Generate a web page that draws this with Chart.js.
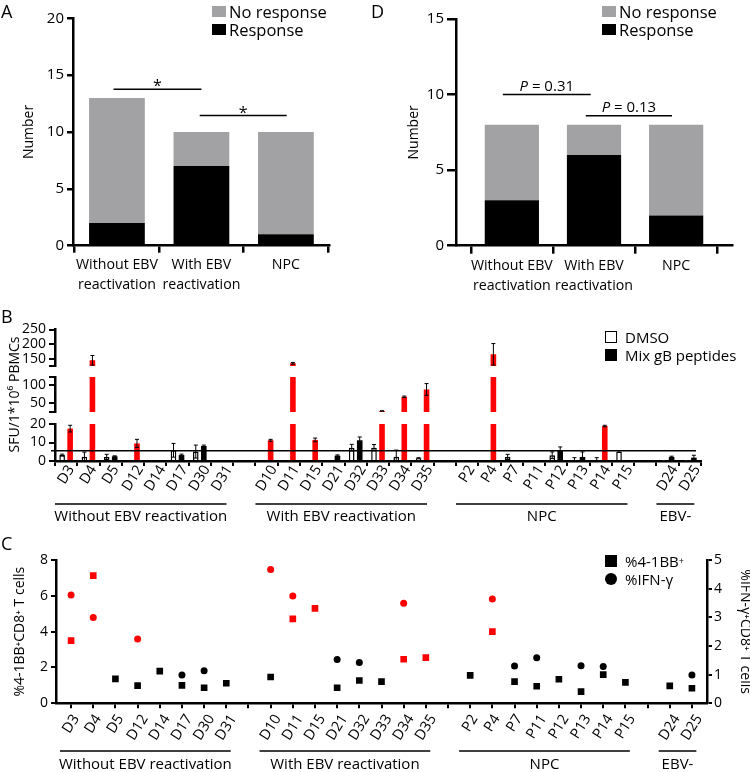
<!DOCTYPE html>
<html><head><meta charset="utf-8">
<script src="https://cdn.jsdelivr.net/npm/chart.js@4.4.1/dist/chart.umd.min.js"></script>
<style>
html,body{margin:0;padding:0;background:#fff;}
body{width:750px;height:772px;position:relative;overflow:hidden;font-family:'Open Sans','DejaVu Sans',sans-serif;color:#000;}
canvas{position:absolute;}
.pl{position:absolute;font-size:18px;line-height:18px;}
.leg{position:absolute;white-space:nowrap;}
.row{display:flex;align-items:center;height:18px;}
.sw{display:inline-block;flex:none;box-sizing:border-box;}
</style></head><body>
<canvas id="cA" width="370" height="300" style="left:0;top:0"></canvas>
<canvas id="cD" width="380" height="300" style="left:370px;top:0"></canvas>
<canvas id="cB3" width="750" height="230" style="left:0;top:300px"></canvas>
<canvas id="cB2" width="750" height="230" style="left:0;top:300px"></canvas>
<canvas id="cB1" width="750" height="230" style="left:0;top:300px"></canvas>
<canvas id="cC" width="755" height="302" style="left:0;top:470px"></canvas>

<div class="pl" style="left:1px;top:2px">A</div>
<div class="pl" style="left:371px;top:2px">D</div>
<div class="pl" style="left:1px;top:307px">B</div>
<div class="pl" style="left:1px;top:534px">C</div>

<div class="leg" style="left:212px;top:2px;font-size:16.5px">
  <div class="row"><span class="sw" style="width:14px;height:11px;background:#a2a2a5;margin-right:3px"></span>No response</div>
  <div class="row"><span class="sw" style="width:14px;height:11px;background:#000;margin-right:3px"></span>Response</div>
</div>
<div class="leg" style="left:602px;top:2px;font-size:16.5px">
  <div class="row"><span class="sw" style="width:14px;height:11px;background:#a2a2a5;margin-right:3px"></span>No response</div>
  <div class="row"><span class="sw" style="width:14px;height:11px;background:#000;margin-right:3px"></span>Response</div>
</div>
<div class="leg" style="left:605px;top:328px;font-size:15px">
  <div class="row"><span class="sw" style="width:12px;height:12px;border:1.5px solid #000;background:#fff;margin-right:8px"></span>DMSO</div>
  <div class="row"><span class="sw" style="width:12px;height:12px;background:#000;margin-right:8px"></span>Mix gB peptides</div>
</div>
<div class="leg" style="left:605px;top:552px;font-size:15px">
  <div class="row"><span class="sw" style="width:12px;height:12px;background:#000;margin-right:8px"></span>%4-1BB<sup style="font-size:9px;line-height:0">+</sup></div>
  <div class="row"><span class="sw" style="width:12px;height:12px;border-radius:50%;background:#000;margin-right:8px"></span>%IFN-γ</div>
</div>

<script>
// ---------------- data ----------------
const groupCats = [['Without EBV', 'reactivation'], ['With EBV', 'reactivation'], 'NPC'];
// Panel A
const aResponse = [2, 7, 1];
const aNoResponse = [11, 3, 9];
const aSig = [{from: -0.04, to: 1.0, y: 13.75, text: '*'}, {from: 0.98, to: 2.01, y: 11.45, text: '*'}];
// Panel D
const dResponse = [3, 6, 2];
const dNoResponse = [5, 2, 6];
const dSig = [{from: -0.11, to: 0.96, y: 10.0, text: 'P = 0.31'}, {from: 0.9, to: 1.95, y: 8.6, text: 'P = 0.13'}];

// Panels B / C categories
const groupNames = ['Without EBV reactivation', 'With EBV reactivation', 'NPC', 'EBV-'];
const groupMembers = [
  ['D3', 'D4', 'D5', 'D12', 'D14', 'D17', 'D30', 'D31'],
  ['D10', 'D11', 'D15', 'D21', 'D32', 'D33', 'D34', 'D35'],
  ['P2', 'P4', 'P7', 'P11', 'P12', 'P13', 'P14', 'P15'],
  ['D24', 'D25']
];
// Panel B (SFU per 1e6 PBMCs); null = spacer slot between groups
const dmsoSFU = [3.2, 2.3, 2.2, 0, 0.5, 5.8, 5.1, 0.5, null, 0, 0, 0.5, 0, 7.2, 7.2, 2.3, 1.5, null, 0, 0.5, 2.2, 0, 3.1, 0.5, 0.5, 5.1, null, 0.3, 0.3];
const dmsoErr = [0.5, 2.5, 1.4, 0, 0, 3.7, 3.5, 0, null, 0, 0, 0, 0, 1.8, 1.7, 3.6, 0.3, null, 0, 0, 1.4, 0, 1.8, 1.3, 1.3, 0.5, null, 0, 0];
const mixSFU = [17.5, 147, 2.5, 9.5, 0, 3.2, 8.1, 0.3, null, 11.2, 137, 11.4, 2.9, 11.2, 26, 67, 88, null, 0, 167, 0.3, 0.3, 5.4, 2.2, 18.9, 0.2, null, 2.2, 1.8];
const mixErr = [1.8, 16, 0.3, 2.2, 0, 0.5, 0.5, 0, null, 0.5, 3, 1, 0.4, 1.8, 0.5, 2, 17, null, 0, 36, 0, 0, 2.2, 2.7, 0.4, 0, null, 0.4, 1.3];
const mixResponse = [1, 1, 0, 1, 0, 0, 0, 0, 0, 1, 1, 1, 0, 0, 1, 1, 1, 0, 0, 1, 0, 0, 0, 0, 1, 0, 0, 0, 0];
const sfuCutoff = 5.6;
// Panel C
const pct41BB = [3.5, 7.13, 1.36, 0.99, 1.8, 1.0, 0.87, 1.12, null, 1.47, 4.71, 5.3, 0.87, 1.27, 1.21, 2.46, 2.55, null, 1.56, 4.0, 1.21, 0.95, 1.34, 0.65, 1.6, 1.17, null, 0.97, 0.84];
const pos41BB = [1, 1, 0, 0, 0, 0, 0, 0, 0, 0, 1, 1, 0, 0, 0, 1, 1, 0, 0, 1, 0, 0, 0, 0, 0, 0, 0, 0, 0];
const pctIFN = [3.78, 2.99, null, 2.24, null, 0.99, 1.14, null, null, 4.67, 3.74, null, 1.53, 1.42, null, 3.49, null, null, null, 3.64, 1.3, 1.59, null, 1.31, 1.28, null, null, null, 0.99];
const posIFN = [1, 1, 0, 1, 0, 0, 0, 0, 0, 1, 1, 0, 0, 0, 0, 1, 0, 0, 0, 1, 0, 0, 0, 0, 0, 0, 0, 0, 0];

// ---------------- helpers ----------------
const FONT = "'Open Sans','DejaVu Sans',sans-serif";
Chart.defaults.font.family = FONT;
Chart.defaults.color = '#000';
const RED = '#ff0000', GRAY = '#a2a2a5', BLK = '#000';

const categories = [];
const groups = [];
groupMembers.forEach((m, g) => {
  if (g) categories.push('');
  groups.push({name: groupNames[g], start: categories.length, end: categories.length + m.length - 1});
  categories.push(...m);
});

function tickGrid(len, w) {
  return {display: true, drawOnChartArea: false, drawTicks: true, tickLength: len, color: BLK, lineWidth: w};
}

const sigPlugin = {
  id: 'sig',
  afterDraw(chart, args, o) {
    if (!o || !o.items) return;
    const ctx = chart.ctx, xs = chart.scales.x, ys = chart.scales.y;
    ctx.save();
    ctx.strokeStyle = BLK; ctx.fillStyle = BLK; ctx.lineWidth = 1.5;
    o.items.forEach(it => {
      const x1 = xs.getPixelForValue(it.from), x2 = xs.getPixelForValue(it.to), y = ys.getPixelForValue(it.y);
      ctx.beginPath(); ctx.moveTo(x1, y); ctx.lineTo(x2, y); ctx.stroke();
      const cx = (x1 + x2) / 2;
      ctx.textBaseline = 'alphabetic';
      if (it.text === '*') {
        ctx.font = '16px ' + FONT; ctx.textAlign = 'center';
        ctx.fillText('*', cx, y + 2);
      } else {
        const rest = it.text.slice(1);
        ctx.font = 'italic 15px ' + FONT;
        const wP = ctx.measureText('P').width;
        ctx.font = '15px ' + FONT;
        const wR = ctx.measureText(rest).width;
        const x0 = cx - (wP + wR) / 2;
        ctx.textAlign = 'left';
        ctx.font = 'italic 15px ' + FONT; ctx.fillText('P', x0, y - 4);
        ctx.font = '15px ' + FONT; ctx.fillText(rest, x0 + wP, y - 4);
      }
    });
    ctx.restore();
  }
};

const xLabelPlugin = {
  id: 'xlab',
  afterDraw(chart, args, o) {
    if (!o || !o.labels) return;
    const ctx = chart.ctx, xs = chart.scales.x, y0 = xs.top;
    const th = o.angle * Math.PI / 180;
    ctx.save();
    ctx.fillStyle = BLK; ctx.strokeStyle = BLK;
    ctx.font = o.size + 'px ' + FONT;
    ctx.textAlign = 'center'; ctx.textBaseline = 'middle';
    const h = o.size * 0.72;
    o.labels.forEach((lab, i) => {
      if (!lab) return;
      const w = ctx.measureText(lab).width;
      const cx = xs.getPixelForValue(i);
      const cy = y0 + o.gap + (w * Math.sin(th) + h * Math.cos(th)) / 2;
      ctx.save(); ctx.translate(cx, cy); ctx.rotate(-th); ctx.fillText(lab, 0, 0); ctx.restore();
    });
    ctx.font = o.groupSize + 'px ' + FONT;
    ctx.lineWidth = 1.5;
    o.groups.forEach(g => {
      const x1 = xs.getPixelForValue(g.start - 0.5), x2 = xs.getPixelForValue(g.end + 0.2);
      const ly = y0 + o.lineDy;
      ctx.beginPath(); ctx.moveTo(x1, ly); ctx.lineTo(x2, ly); ctx.stroke();
      ctx.fillText(g.name, (x1 + x2) / 2, y0 + o.textDy);
    });
    ctx.restore();
  }
};

const errPlugin = {
  id: 'errbars',
  afterDatasetsDraw(chart) {
    const ctx = chart.ctx, ca = chart.chartArea;
    ctx.save();
    ctx.beginPath(); ctx.rect(ca.left, ca.top - 1, ca.right - ca.left, ca.bottom - ca.top + 1); ctx.clip();
    ctx.strokeStyle = BLK; ctx.lineWidth = 1;
    chart.data.datasets.forEach((ds, di) => {
      if (!ds.errors) return;
      const meta = chart.getDatasetMeta(di), ys = chart.scales[meta.yAxisID];
      meta.data.forEach((el, i) => {
        const v = ds.data[i], e = ds.errors[i];
        if (v == null || !e) return;
        const x = el.x, y1 = ys.getPixelForValue(v + e), y2 = ys.getPixelForValue(Math.max(0, v - e));
        ctx.beginPath();
        ctx.moveTo(x, y1); ctx.lineTo(x, y2);
        ctx.moveTo(x - 2, y1); ctx.lineTo(x + 2, y1);
        ctx.moveTo(x - 2, y2); ctx.lineTo(x + 2, y2);
        ctx.stroke();
      });
    });
    ctx.restore();
  }
};

const cutoffPlugin = {
  id: 'cutoff',
  afterDatasetsDraw(chart, args, o) {
    if (!o || o.value == null) return;
    const ctx = chart.ctx, ca = chart.chartArea, y = chart.scales.y.getPixelForValue(o.value);
    ctx.save(); ctx.strokeStyle = BLK; ctx.lineWidth = 1.5;
    ctx.beginPath(); ctx.moveTo(ca.left - 4, y); ctx.lineTo(ca.right - 5, y); ctx.stroke();
    ctx.restore();
  }
};

// ---------------- panels A and D ----------------
function stackedChart(id, resp, noResp, yMax, xMin, xMax, yWidth, padRight, padTop, yTick, xTick, titlePad, sig) {
  return new Chart(document.getElementById(id), {
    type: 'bar',
    data: {datasets: [
      {label: 'Response', data: resp.map((v, i) => ({x: i, y: v})), backgroundColor: BLK, barPercentage: 0.825, categoryPercentage: 0.8},
      {label: 'No response', data: noResp.map((v, i) => ({x: i, y: v})), backgroundColor: GRAY, barPercentage: 0.825, categoryPercentage: 0.8}
    ]},
    options: {
      responsive: false, animation: false,
      layout: {padding: {top: padTop, right: padRight, left: 0, bottom: 0}},
      plugins: {legend: {display: false}, tooltip: {enabled: false}, sig: {items: sig}},
      scales: {
        x: {type: 'linear', stacked: true, min: xMin, max: xMax, offset: false,
          afterBuildTicks: s => { s.ticks = groupCats.map((_, i) => ({value: i})); },
          afterFit: s => { s.height = 54.3; },
          ticks: {autoSkip: false, maxRotation: 0, minRotation: 0, padding: 2, font: {size: 14.2, lineHeight: 1.4}, callback: v => groupCats[v]},
          grid: tickGrid(xTick, 2.5), border: {display: true, color: BLK, width: 2.5}},
        y: {stacked: true, min: 0, max: yMax,
          afterFit: s => { s.width = yWidth; },
          ticks: {stepSize: 5, padding: 3, font: {size: 15}, autoSkip: false},
          grid: tickGrid(yTick, 2.5), border: {color: BLK, width: 2.5},
          title: {display: true, text: 'Number', font: {size: 14}, padding: {top: titlePad, bottom: 0}}}
      }
    },
    plugins: [sigPlugin]
  });
}
stackedChart('cA', aResponse, aNoResponse, 20, -0.52, 2.51, 73, 41, 18.3, 6, 7, 20.6, aSig);
stackedChart('cD', dResponse, dNoResponse, 15, -0.68, 2.68, 86, 18, 19, 9, 8, 35.6, dSig);

// ---------------- panel B (broken axis: three stacked segments) ----------------
function bDatasets() {
  return [
    {label: 'DMSO', data: dmsoSFU, errors: dmsoErr, backgroundColor: '#fff', borderColor: BLK, borderWidth: 1.5,
      clip: 0, barPercentage: 0.7, categoryPercentage: 0.72},
    {label: 'Mix gB peptides', data: mixSFU, errors: mixErr, backgroundColor: mixResponse.map(r => r ? RED : BLK),
      clip: 0, barPercentage: 0.7, categoryPercentage: 0.72}
  ];
}
function bChart(id, yMin, yMax, tickVals, labelVals, padTop, padBottom, bottom) {
  const yScale = {min: yMin, max: yMax,
    afterFit: s => { s.width = 55; },
    afterBuildTicks: s => { s.ticks = tickVals.map(v => ({value: v})); },
    ticks: {padding: 3, font: {size: 14}, autoSkip: false, callback: v => labelVals.includes(v) ? String(v) : ''},
    grid: tickGrid(6, 2), border: {color: BLK, width: 2.5}};
  if (id === 'cB2') yScale.title = {display: true, text: 'SFU/1*10⁶ PBMCs', font: {size: 14}, padding: {top: 7, bottom: 0}};
  const xScale = bottom ? {
      afterFit: s => { s.height = 69; },
      ticks: {display: false},
      grid: Object.assign(tickGrid(5, 2), {offset: true}), border: {display: true, color: BLK, width: 2.5}}
    : {display: false};
  return new Chart(document.getElementById(id), {
    type: 'bar',
    data: {labels: categories, datasets: bDatasets()},
    options: {
      responsive: false, animation: false,
      layout: {padding: {top: padTop, right: 49, left: 0, bottom: padBottom}},
      plugins: {legend: {display: false}, tooltip: {enabled: false},
        cutoff: {value: bottom ? sfuCutoff : null},
        xlab: bottom ? {labels: categories, size: 14.5, angle: 58, gap: 3, groups: groups, groupSize: 15, lineDy: 43, textDy: 56} : {}},
      scales: {x: xScale, y: yScale}
    },
    plugins: [errPlugin, cutoffPlugin, xLabelPlugin]
  });
}
bChart('cB3', 128, 250, [128, 150, 200, 250], [150, 200, 250], 29.5, 164, false);
bChart('cB2', 23, 124, [23, 50, 100, 124], [50, 100], 77, 118, false);
bChart('cB1', 0, 20, [0, 10, 20], [0, 10, 20], 124, 0, true);

// ---------------- panel C ----------------
new Chart(document.getElementById('cC'), {
  type: 'scatter',
  data: {datasets: [
    {label: '%4-1BB+', data: pct41BB.map((v, i) => ({x: i, y: v})), yAxisID: 'y',
      pointStyle: 'rect', pointRadius: 4.7, pointBorderWidth: 0,
      pointBackgroundColor: pos41BB.map(p => p ? RED : BLK), pointBorderColor: pos41BB.map(p => p ? RED : BLK)},
    {label: '%IFN-γ', data: pctIFN.map((v, i) => ({x: i, y: v})), yAxisID: 'y2',
      pointStyle: 'circle', pointRadius: 3.5, pointBorderWidth: 0,
      pointBackgroundColor: posIFN.map(p => p ? RED : BLK), pointBorderColor: posIFN.map(p => p ? RED : BLK)}
  ]},
  options: {
    responsive: false, animation: false,
    layout: {padding: {top: 90, right: 0, left: 0, bottom: 0}},
    plugins: {legend: {display: false}, tooltip: {enabled: false},
      xlab: {labels: categories, size: 14.5, angle: 58, gap: 10, groups: groups, groupSize: 15, lineDy: 47.7, textDy: 61}},
    scales: {
      x: {type: 'linear', min: -0.68, max: 28.68,
        afterBuildTicks: s => { s.ticks = categories.map((_, i) => ({value: i})); },
        afterFit: s => { s.height = 68.7; },
        ticks: {display: false},
        grid: tickGrid(5, 2), border: {display: true, color: BLK, width: 2.5}},
      y: {position: 'left', min: 0, max: 8,
        afterFit: s => { s.width = 56; },
        ticks: {stepSize: 2, padding: 3, font: {size: 14}, autoSkip: false},
        grid: tickGrid(5, 2), border: {color: BLK, width: 2.5},
        title: {display: true, text: '%4-1BB⁺CD8⁺ T cells', font: {size: 14}, padding: {top: 11.6, bottom: 0}}},
      y2: {position: 'right', min: 0, max: 5,
        afterFit: s => { s.width = 48; },
        ticks: {stepSize: 1, padding: 2, font: {size: 14}, autoSkip: false},
        grid: tickGrid(5, 2), border: {color: BLK, width: 2.5},
        title: {display: true, text: '%IFN-γ⁺CD8⁺ T cells', font: {size: 14}, padding: {top: 1.6, bottom: 0}}}
    }
  },
  plugins: [xLabelPlugin]
});
</script>
</body></html>
